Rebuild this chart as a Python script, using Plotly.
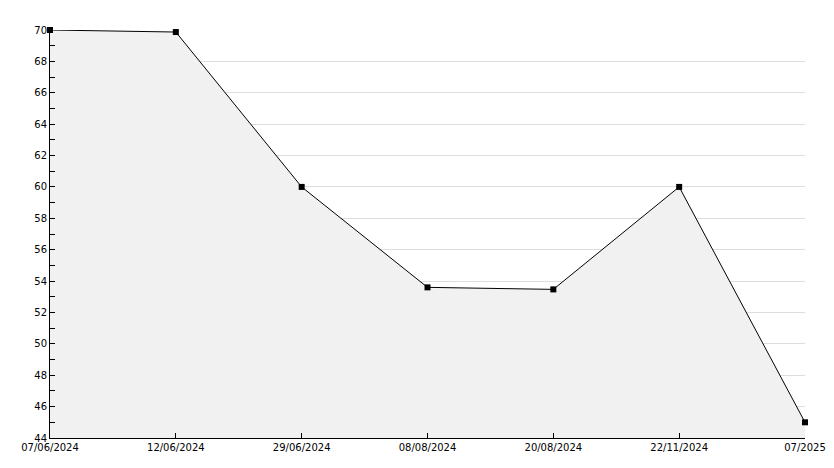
import plotly.graph_objects as go

dates = ["07/06/2024", "12/06/2024", "29/06/2024", "08/08/2024", "20/08/2024", "22/11/2024", "07/2025"]
values = [70, 69.87, 60, 53.6, 53.47, 60, 45]
yticks = list(range(44, 71, 2))

xs = list(range(len(dates)))

fig = go.Figure()
fig.add_trace(go.Scatter(
    x=xs, y=values, mode="lines+markers",
    line=dict(color="black", width=1),
    marker=dict(color="black", size=6, symbol="square"),
    fill="tozeroy", fillcolor="#f1f1f1",
    hoverinfo="skip", showlegend=False, cliponaxis=False,
))

fig.update_layout(
    width=834, height=468,
    margin=dict(l=42, r=37, t=22, b=38, autoexpand=False),
    paper_bgcolor="white", plot_bgcolor="white",
    font=dict(family="DejaVu Sans", size=10, color="black"),
)
fig.update_xaxes(
    range=[0, len(dates) - 1], tickvals=xs, ticktext=dates,
    showgrid=False, zeroline=False,
    showline=True, linecolor="black", linewidth=1,
    ticks="inside", ticklen=5, tickcolor="black",
)
fig.update_yaxes(
    range=[44, 70], tickvals=yticks, ticktext=[str(v) for v in yticks],
    showgrid=True, gridcolor="#dddddd", gridwidth=1, zeroline=False,
    showline=True, linecolor="black", linewidth=1,
    ticks="inside", ticklen=5, tickcolor="black",
    minor=dict(ticks="inside", dtick=1, tick0=44, ticklen=5, tickcolor="black", showgrid=False),
)

fig.write_html("out.html")
